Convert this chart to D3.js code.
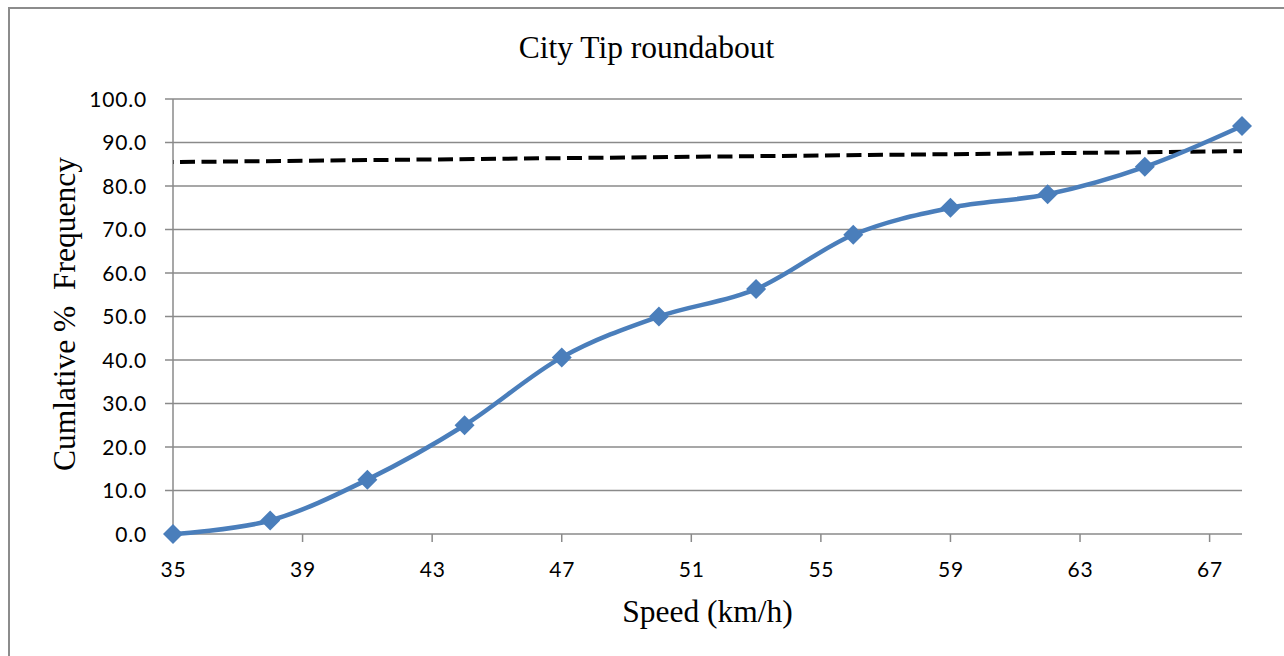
<!DOCTYPE html>
<html>
<head>
<meta charset="utf-8">
<script src="https://cdn.jsdelivr.net/npm/d3@7"></script>
<style>
  html, body { margin: 0; padding: 0; background: #fff; }
  svg { display: block; }
  .tick-label { font-family: Lato, "Open Sans", sans-serif; font-size: 21px; fill: #000; letter-spacing: 0.8px; }
  .serif { font-family: "Liberation Serif", "Times New Roman", serif; fill: #000; }
</style>
</head>
<body>
<svg id="chart" width="1284" height="656"></svg>
<script>
// Cumulative speed distribution at City Tip roundabout
const speeds = [35, 38, 41, 44, 47, 50, 53, 56, 59, 62, 65, 68];
const cumulativePct = [0.0, 3.1, 12.5, 25.0, 40.6, 50.0, 56.3, 68.8, 75.0, 78.1, 84.4, 93.8];

// Reference (dashed) line end points
const refSpeeds = [35, 68];
const refPct = [85.5, 88.0];

const xTickValues = [35, 39, 43, 47, 51, 55, 59, 63, 67];
const yTickValues = [0, 10, 20, 30, 40, 50, 60, 70, 80, 90, 100];

const titleText = "City Tip roundabout";
const xTitle = "Speed (km/h)";
const yTitle = "Cumlative %  Frequency";

const svg = d3.select("#chart");
const W = 1284, H = 656;
const plotLeft = 173, plotRight = 1242, plotTop = 99, plotBottom = 534;

const x = d3.scaleLinear().domain([35, 68]).range([plotLeft, plotRight]);
const y = d3.scaleLinear().domain([0, 100]).range([plotBottom, plotTop]);

const gridColor = "#8a8a8a";

// chart frame
svg.append("rect")
  .attr("x", 9).attr("y", 8)
  .attr("width", W + 20).attr("height", H + 20)
  .attr("fill", "none").attr("stroke", "#8c8c8c").attr("stroke-width", 2);

// horizontal gridlines with left tick stubs
svg.append("g").selectAll("line")
  .data(yTickValues)
  .join("line")
  .attr("x1", plotLeft - 8).attr("x2", plotRight)
  .attr("y1", d => y(d)).attr("y2", d => y(d))
  .attr("stroke", gridColor).attr("stroke-width", 1.5);

// vertical axis line
svg.append("line")
  .attr("x1", plotLeft).attr("x2", plotLeft)
  .attr("y1", y(100)).attr("y2", y(0))
  .attr("stroke", gridColor).attr("stroke-width", 1.5);

// x axis ticks
svg.append("g").selectAll("line")
  .data(xTickValues)
  .join("line")
  .attr("x1", d => x(d)).attr("x2", d => x(d))
  .attr("y1", plotBottom).attr("y2", plotBottom + 8)
  .attr("stroke", gridColor).attr("stroke-width", 1.5);

// y tick labels
svg.append("g").selectAll("text")
  .data(yTickValues)
  .join("text")
  .attr("class", "tick-label")
  .attr("x", 147)
  .attr("y", d => y(d))
  .attr("dy", "0.36em")
  .attr("text-anchor", "end")
  .text(d => d3.format(".1f")(d));

// x tick labels
svg.append("g").selectAll("text")
  .data(xTickValues)
  .join("text")
  .attr("class", "tick-label")
  .attr("x", d => x(d) + 0.5)
  .attr("y", 577)
  .attr("text-anchor", "middle")
  .text(d => d);

// dashed reference line
svg.append("path")
  .datum(refSpeeds.map((s, i) => [s, refPct[i]]))
  .attr("d", d3.line().x(d => x(d[0])).y(d => y(d[1])))
  .attr("fill", "none")
  .attr("stroke", "#000")
  .attr("stroke-width", 4)
  .attr("stroke-dasharray", "15,6.5")
  .attr("stroke-dashoffset", -7);

// smoothed cumulative curve
const pts = speeds.map((s, i) => [s, cumulativePct[i]]);
svg.append("path")
  .datum(pts)
  .attr("d", d3.line().curve(d3.curveCatmullRom.alpha(0)).x(d => x(d[0])).y(d => y(d[1])))
  .attr("fill", "none")
  .attr("stroke", "#4a7ebb")
  .attr("stroke-width", 4.5)
  .attr("stroke-linejoin", "round");

// diamond markers
const r = 10;
svg.append("g").selectAll("path")
  .data(pts)
  .join("path")
  .attr("d", d => {
    const cx = x(d[0]), cy = y(d[1]);
    return `M${cx},${cy - r}L${cx + r},${cy}L${cx},${cy + r}L${cx - r},${cy}Z`;
  })
  .attr("fill", "#4a7ebb");

// titles
svg.append("text")
  .attr("class", "serif")
  .attr("x", 646.5).attr("y", 58)
  .attr("text-anchor", "middle")
  .attr("font-size", 31.5)
  .text(titleText);

svg.append("text")
  .attr("class", "serif")
  .attr("x", (plotLeft + plotRight) / 2).attr("y", 622)
  .attr("text-anchor", "middle")
  .attr("font-size", 31.5)
  .text(xTitle);

svg.append("text")
  .attr("class", "serif")
  .attr("transform", "translate(75,314) rotate(-90)")
  .attr("text-anchor", "middle")
  .attr("font-size", 31.5)
  .attr("xml:space", "preserve")
  .style("white-space", "pre")
  .text(yTitle);
</script>
</body>
</html>
